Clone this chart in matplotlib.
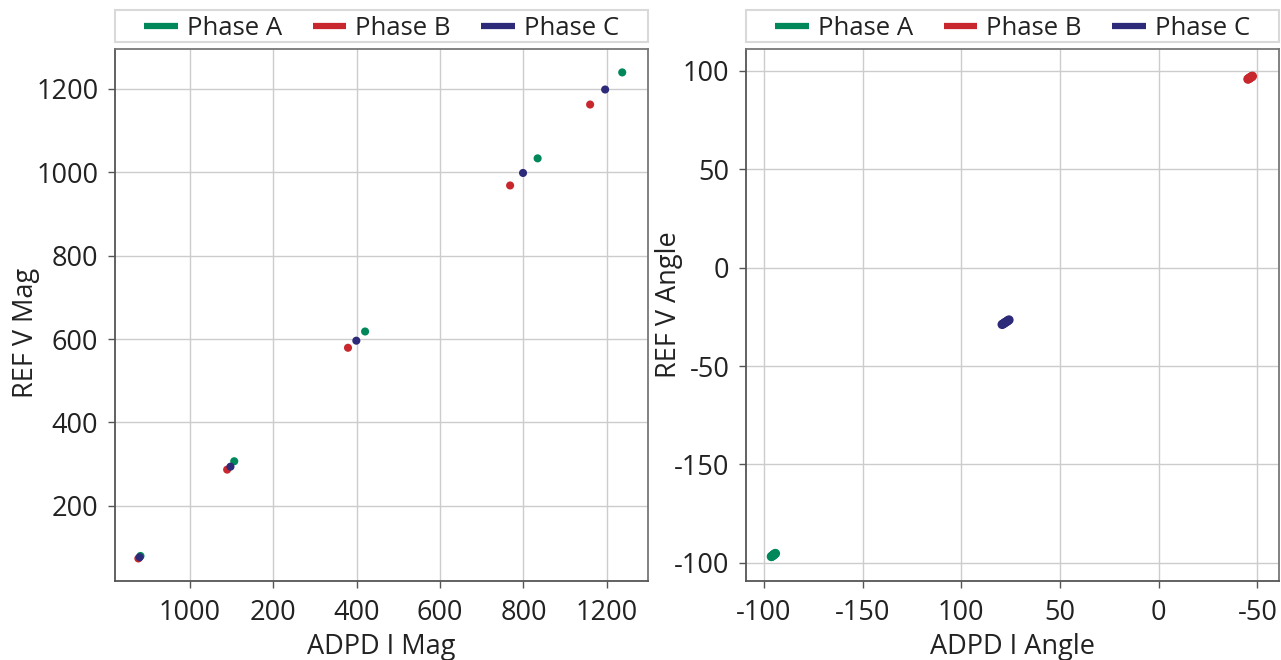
"""ADPD vs REF: magnitud y angulo por fase (dos paneles de dispersion)."""
import matplotlib
matplotlib.use("Agg")
import matplotlib.pyplot as plt
from matplotlib.patches import Rectangle

plt.rcParams["font.family"] = ["Open Sans", "DejaVu Sans"]

PHASES = ["Phase A", "Phase B", "Phase C"]
COLORS = ["#00875a", "#c8282d", "#2e2a7a"]

# Panel izquierdo: magnitudes (5 puntos de carga por fase)
mag_x_a = [81, 306, 620, 1034, 1237]
mag_y_a = [80, 307, 618, 1033, 1239]
mag_x_b = [76, 289, 579, 968, 1160]
mag_y_b = [74, 287, 579, 968, 1162]
mag_x_c = [79, 297, 599, 999, 1196]
mag_y_c = [77, 294, 596, 998, 1198]

mag_xticks = [200, 400, 600, 800, 1000, 1200]
mag_xticklabels = ["1000", "200", "400", "600", "800", "1200"]
mag_yticks = [200, 400, 600, 800, 1000, 1200]

# Panel derecho: angulos (nubes compactas)
ang_x_a = [196.2, 195.9, 195.6, 195.3, 195.0, 194.7, 194.4, 194.1]
ang_y_a = [-146.8, -146.6, -146.4, -146.1, -145.9, -145.6, -145.4, -145.2]
ang_x_b = [-45.2, -45.5, -45.8, -46.1, -46.5, -46.8, -47.1, -47.5]
ang_y_b = [95.7, 95.9, 96.1, 96.3, 96.6, 96.8, 97.0, 97.2]
ang_x_c = [79.3, 78.8, 78.3, 77.8, 77.3, 76.8, 76.3, 75.8]
ang_y_c = [-28.9, -28.6, -28.3, -27.9, -27.6, -27.3, -26.9, -26.6]

ang_xticks = [200, 150, 100, 50, 0, -50]
ang_xticklabels = ["-100", "-150", "100", "50", "0", "-50"]
ang_yticks = [-150, -100, -50, 0, 50, 100]
ang_yticklabels = ["-100", "-150", "-50", "0", "50", "100"]

TXT = "#222222"
FS = 19.5


def style_axes(ax):
    ax.set_facecolor("white")
    ax.grid(True, color="#cccccc", linewidth=1.0)
    ax.set_axisbelow(True)
    for side, sp in ax.spines.items():
        sp.set_color("#555555" if side in ("left", "bottom") else "#777777")
        sp.set_linewidth(1.3)
    ax.tick_params(axis="both", direction="out", length=5, width=1,
                   color="#555555", labelsize=FS, labelcolor=TXT)
    ax.tick_params(axis="y", pad=7)
    ax.tick_params(axis="x", pad=8)


def add_legend(fig, ax):
    pos = ax.get_position()
    fig.patches.append(Rectangle((pos.x0, 0.936), pos.width, 0.049,
                                 transform=fig.transFigure, fill=False,
                                 edgecolor="#d9d9d9", linewidth=1.5))
    handles = [plt.Line2D([], [], color=c, linewidth=4.5, solid_capstyle="butt")
               for c in COLORS]
    fig.legend(handles, PHASES, loc="center",
               bbox_to_anchor=(pos.x0 + pos.width / 2, 0.957),
               ncol=3, frameon=False, fontsize=18.5, handlelength=1.3,
               columnspacing=1.2, handletextpad=0.35, labelcolor=TXT)


fig = plt.figure(figsize=(12.81, 6.60), dpi=100)
ax1 = fig.add_axes([0.0898, 0.1197, 0.4161, 0.806])
ax2 = fig.add_axes([0.5824, 0.1197, 0.4161, 0.806])

for xs, ys, c in zip([mag_x_a, mag_x_b, mag_x_c], [mag_y_a, mag_y_b, mag_y_c], COLORS):
    ax1.scatter(xs, ys, s=34, color=c, edgecolors="none", zorder=3)
ax1.set_xlim(20, 1299)
ax1.set_ylim(20, 1295)
ax1.set_xticks(mag_xticks)
ax1.set_xticklabels(mag_xticklabels)
ax1.set_yticks(mag_yticks)
style_axes(ax1)
ax1.set_xlabel("ADPD I Mag", fontsize=FS, color=TXT)
ax1.set_ylabel("REF V Mag", fontsize=FS, color=TXT)
ax1.xaxis.set_label_coords(0.5, -0.097)
ax1.yaxis.set_label_coords(-0.14, 0.466)

for xs, ys, c in zip([ang_x_a, ang_x_b, ang_x_c], [ang_y_a, ang_y_b, ang_y_c], COLORS):
    ax2.scatter(xs, ys, s=44, color=c, edgecolors="none", zorder=3)
ax2.set_xlim(209, -61)
ax2.set_ylim(-159.2, 111)
ax2.set_xticks(ang_xticks)
ax2.set_xticklabels(ang_xticklabels)
ax2.set_yticks(ang_yticks)
ax2.set_yticklabels(ang_yticklabels)
style_axes(ax2)
ax2.set_xlabel("ADPD I Angle", fontsize=FS, color=TXT)
ax2.set_ylabel("REF V Angle", fontsize=FS, color=TXT)
ax2.xaxis.set_label_coords(0.5, -0.097)
ax2.yaxis.set_label_coords(-0.118, 0.519)

add_legend(fig, ax1)
add_legend(fig, ax2)

fig.savefig("out.png", dpi=100, facecolor="white")
plt.close(fig)
